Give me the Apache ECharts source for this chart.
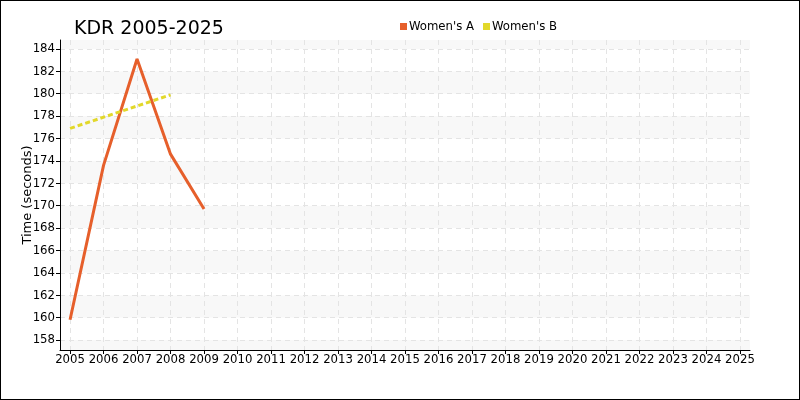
<!DOCTYPE html>
<html>
<head>
<meta charset="utf-8">
<script src="https://cdn.jsdelivr.net/npm/echarts@6/dist/echarts.min.js"></script>
<style>
    html, body { margin: 0; padding: 0; background: #fff; }
    #kdr { width: 800px; height: 400px; outline: 1px solid #000; outline-offset: -1px; }
</style>
</head>
<body>
<div id="kdr"></div>
<script type="text/javascript">
// KDR 2005-2025 finishing times
var years = [2005, 2006, 2007, 2008, 2009]
var womensA = [159.8, 173.6, 183.1, 174.6, 169.7]
var yearsB = [2005, 2008]
var womensB = [176.9, 179.9]
var seriesNames = ["Women's A", "Women's B"]

function pairs(xs, ys) {
    var out = []
    for (var i = 0; i < xs.length; i++) {
        out.push([xs[i], ys[i]])
    }
    return out
}

var font = '"DejaVu Sans Condensed", "DejaVu Sans"'
var myChart = echarts.init(document.getElementById('kdr'))
myChart.setOption({
    animation: false,
    title: {
        text: 'KDR 2005-2025',
        left: 69,
        top: 15,
        textStyle: { fontFamily: 'DejaVu Sans', fontSize: 19, fontWeight: 'normal', color: '#000' }
    },
    legend: {
        left: 395,
        top: 15,
        icon: 'rect',
        itemWidth: 7,
        itemHeight: 7,
        itemGap: 9,
        textStyle: { fontFamily: font, fontSize: 13, color: '#000', padding: [0, 0, 0, -3] },
        data: seriesNames
    },
    grid: {
        left: 60,
        right: 50,
        top: 40,
        bottom: 50,
        containLabel: false
    },
    xAxis: {
        type: 'value',
        min: 2004.7,
        max: 2025.3,
        splitNumber: 20,
        axisLine: { lineStyle: { color: '#000' } },
        axisTick: { length: 4, lineStyle: { color: '#000' } },
        axisLabel: {
            showMinLabel: false,
            showMaxLabel: false,
            margin: 3,
            fontFamily: font,
            fontSize: 13,
            color: '#000',
            formatter: function (v) { return String(v) }
        },
        splitLine: {
            show: true,
            showMinLine: false,
            showMaxLine: false,
            lineStyle: { color: '#e4e4e4', type: [5, 4] }
        }
    },
    yAxis: {
        type: 'value',
        min: 157.1,
        max: 184.8,
        splitNumber: 14,
        name: 'Time (seconds)',
        nameLocation: 'middle',
        nameGap: 26,
        nameMoveOverlap: false,
        nameTextStyle: { fontFamily: 'DejaVu Sans', fontSize: 13, color: '#000' },
        axisLine: { show: true, lineStyle: { color: '#000' } },
        axisTick: { show: true, length: 4, lineStyle: { color: '#000' } },
        axisLabel: {
            showMinLabel: false,
            showMaxLabel: false,
            margin: 5,
            fontFamily: font,
            fontSize: 13,
            color: '#000'
        },
        splitLine: {
            show: true,
            showMinLine: false,
            showMaxLine: false,
            lineStyle: { color: '#e4e4e4', type: [5, 4] }
        },
        splitArea: {
            show: true,
            areaStyle: { color: ['#f8f8f8', '#ffffff'] }
        }
    },
    series: [
        {
            name: seriesNames[0],
            type: 'line',
            data: pairs(years, womensA),
            showSymbol: false,
            symbol: 'none',
            itemStyle: { color: '#e65f2b' },
            lineStyle: { color: '#e65f2b', width: 3 }
        },
        {
            name: seriesNames[1],
            type: 'line',
            data: pairs(yearsB, womensB),
            showSymbol: false,
            symbol: 'none',
            itemStyle: { color: '#e2d82a' },
            lineStyle: { color: '#e2d82a', width: 3, type: [5, 3] }
        }
    ]
})
</script>
</body>
</html>
